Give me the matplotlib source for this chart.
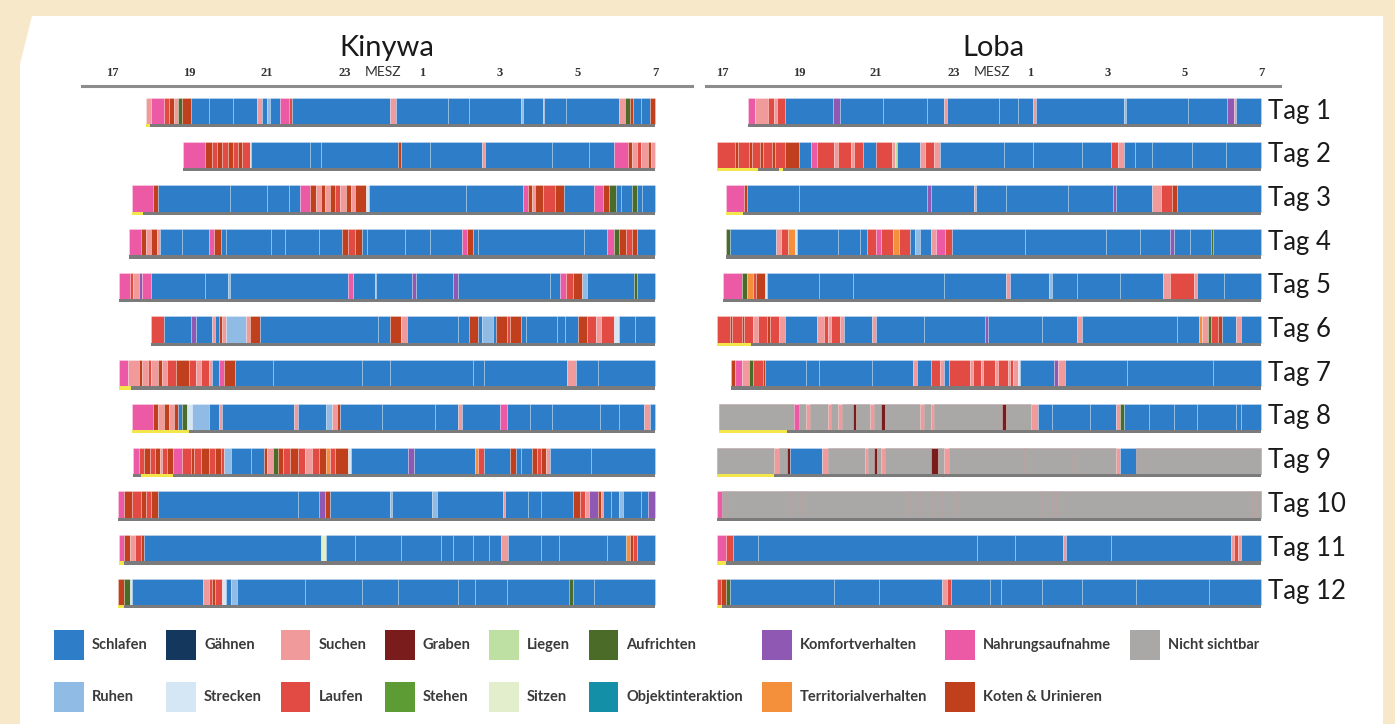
import matplotlib
matplotlib.use('Agg')
import matplotlib.pyplot as plt
from matplotlib.patches import Polygon, Patch

plt.rcParams['font.family'] = ['Lato', 'DejaVu Sans']

# ---------------- data ----------------
# behaviour categories (code, legend name, colour)
codes = ['S', 'G', 'Su', 'Gr', 'Li', 'A', 'K', 'N', 'NS',
         'R', 'St', 'L', 'Ste', 'Si', 'O', 'T', 'KU']
names = ['Schlafen', 'Gähnen', 'Suchen', 'Graben', 'Liegen', 'Aufrichten',
         'Komfortverhalten', 'Nahrungsaufnahme', 'Nicht sichtbar',
         'Ruhen', 'Strecken', 'Laufen', 'Stehen', 'Sitzen', 'Objektinteraktion',
         'Territorialverhalten', 'Koten & Urinieren']
colors = ['#2e7dc9', '#14375e', '#f19a9b', '#7b1c1c', '#bfe0a3', '#4b6b28',
          '#8f58b2', '#ec5aa6', '#aaa8a6',
          '#8fbbe5', '#d5e6f4', '#e24b44', '#5d9b34', '#e3efcc', '#1390a8',
          '#f48f3c', '#c0401e']

# time axis: hours after 17:00 MESZ
tick_hours = [0, 2, 4, 6, 8, 10, 12, 14]
tick_labels = ['17', '19', '21', '23', '1', '3', '5', '7']
day_labels = ['Tag 1', 'Tag 2', 'Tag 3', 'Tag 4', 'Tag 5', 'Tag 6',
              'Tag 7', 'Tag 8', 'Tag 9', 'Tag 10', 'Tag 11', 'Tag 12']

# each day: list of (start hour after 17:00, behaviour code); bout ends at next start
kinywa_tag1 = [(0.88,'Su'),(1.01,'N'),(1.34,'L'),(1.47,'KU'),(1.61,'Su'),(1.70,'A'),(1.80,'KU'),(2.03,'S'),(2.49,'S'),(3.13,'S'),(3.73,'Su'),(3.87,'S'),(4.01,'R'),(4.07,'S'),(4.33,'N'),(4.56,'L'),(4.65,'S'),(7.18,'Su'),(7.32,'S'),(8.66,'S'),(9.21,'S'),(10.55,'R'),(10.59,'S'),(11.10,'Su'),(11.14,'S'),(11.70,'S'),(13.08,'Su'),(13.22,'A'),(13.35,'KU'),(13.44,'S'),(13.63,'S'),(13.86,'KU')]
kinywa_tag2 = [(1.82,'N'),(2.39,'KU'),(2.58,'L'),(2.72,'KU'),(2.85,'L'),(2.99,'KU'),(3.13,'L'),(3.24,'KU'),(3.36,'L'),(3.55,'St'),(3.59,'S'),(5.11,'S'),(5.39,'S'),(7.37,'KU'),(7.46,'S'),(8.20,'S'),(9.53,'Su'),(9.62,'S'),(11.33,'S'),(12.29,'S'),(12.94,'N'),(13.31,'KU'),(13.40,'Su'),(13.54,'L'),(13.63,'Su'),(13.81,'KU'),(13.90,'Su')]
kinywa_tag3 = [(0.51,'N'),(1.06,'KU'),(1.20,'S'),(3.04,'S'),(4.01,'S'),(4.56,'S'),(4.86,'N'),(5.11,'KU'),(5.25,'Su'),(5.39,'KU'),(5.48,'Su'),(5.62,'KU'),(5.76,'L'),(5.89,'Su'),(6.03,'KU'),(6.17,'Su'),(6.26,'KU'),(6.54,'St'),(6.63,'S'),(9.12,'S'),(10.59,'N'),(10.73,'KU'),(10.82,'Su'),(10.91,'KU'),(11.10,'L'),(11.42,'KU'),(11.65,'S'),(12.43,'N'),(12.66,'KU'),(12.80,'A'),(12.98,'S'),(13.12,'S'),(13.40,'A'),(13.54,'S'),(13.67,'S')]
kinywa_tag4 = [(0.44,'N'),(0.74,'KU'),(0.87,'Su'),(1.01,'KU'),(1.15,'Su'),(1.24,'S'),(1.80,'S'),(2.49,'N'),(2.62,'KU'),(2.81,'S'),(2.95,'S'),(4.10,'S'),(4.47,'S'),(5.34,'S'),(5.94,'KU'),(6.08,'L'),(6.26,'KU'),(6.45,'S'),(6.58,'S'),(7.55,'S'),(8.20,'S'),(9.03,'N'),(9.16,'KU'),(9.30,'S'),(9.44,'S'),(12.16,'S'),(12.75,'N'),(12.94,'A'),(13.08,'KU'),(13.26,'L'),(13.40,'KU'),(13.54,'S')]
kinywa_tag5 = [(0.18,'N'),(0.46,'L'),(0.55,'Su'),(0.69,'K'),(0.78,'N'),(1.01,'S'),(2.39,'S'),(2.99,'R'),(3.04,'S'),(6.08,'N'),(6.22,'S'),(6.77,'R'),(6.81,'S'),(7.74,'K'),(7.83,'S'),(8.80,'K'),(8.93,'S'),(11.28,'S'),(11.56,'N'),(11.70,'L'),(11.88,'KU'),(12.11,'R'),(12.25,'S'),(13.45,'A'),(13.54,'S')]
kinywa_tag6 = [(1.01,'L'),(1.34,'S'),(2.03,'K'),(2.16,'S'),(2.58,'Su'),(2.67,'S'),(2.76,'KU'),(2.85,'Su'),(2.95,'R'),(3.45,'Su'),(3.55,'KU'),(3.82,'S'),(6.86,'S'),(7.18,'KU'),(7.46,'Su'),(7.60,'S'),(8.93,'S'),(9.21,'KU'),(9.44,'S'),(9.53,'R'),(9.81,'S'),(9.90,'KU'),(10.18,'L'),(10.27,'KU'),(10.54,'S'),(10.68,'S'),(11.46,'S'),(11.69,'S'),(12.02,'KU'),(12.25,'L'),(12.48,'Su'),(12.61,'L'),(12.94,'St'),(13.08,'S'),(13.49,'S')]
kinywa_tag7 = [(0.18,'N'),(0.41,'Su'),(0.69,'KU'),(0.78,'Su'),(0.92,'L'),(1.01,'Su'),(1.20,'KU'),(1.29,'Su'),(1.43,'L'),(1.66,'KU'),(1.98,'L'),(2.16,'Su'),(2.30,'L'),(2.49,'Su'),(2.58,'S'),(2.76,'N'),(2.90,'KU'),(3.18,'S'),(4.14,'S'),(6.45,'S'),(7.18,'S'),(9.30,'S'),(9.58,'S'),(11.74,'Su'),(11.97,'S'),(12.52,'S')]
kinywa_tag8 = [(0.53,'N'),(1.06,'KU'),(1.20,'Su'),(1.34,'KU'),(1.47,'Su'),(1.61,'KU'),(1.70,'S'),(1.80,'A'),(1.93,'St'),(2.07,'R'),(2.49,'S'),(2.76,'Su'),(2.85,'S'),(4.70,'Su'),(4.79,'S'),(5.52,'R'),(5.66,'Su'),(5.80,'KU'),(5.89,'S'),(6.95,'S'),(8.33,'S'),(8.93,'Su'),(9.03,'S'),(9.99,'N'),(10.18,'S'),(10.78,'S'),(11.33,'S'),(12.57,'S'),(13.08,'S'),(13.72,'Su'),(13.86,'S')]
kinywa_tag9 = [(0.55,'N'),(0.69,'L'),(0.83,'KU'),(0.97,'L'),(1.10,'KU'),(1.24,'Su'),(1.29,'L'),(1.43,'KU'),(1.57,'N'),(1.80,'L'),(2.03,'KU'),(2.12,'L'),(2.30,'KU'),(2.49,'L'),(2.67,'KU'),(2.81,'L'),(2.90,'R'),(3.08,'S'),(3.59,'S'),(3.91,'KU'),(4.01,'Su'),(4.14,'A'),(4.28,'KU'),(4.42,'L'),(4.60,'KU'),(4.79,'L'),(4.97,'Su'),(5.16,'L'),(5.34,'KU'),(5.52,'T'),(5.62,'L'),(5.76,'KU'),(6.08,'St'),(6.17,'S'),(7.64,'K'),(7.78,'S'),(9.35,'T'),(9.44,'L'),(9.58,'S'),(10.27,'KU'),(10.41,'S'),(10.54,'S'),(10.82,'KU'),(10.96,'L'),(11.05,'KU'),(11.19,'Su'),(11.28,'S'),(12.34,'S')]
kinywa_tag10 = [(0.17,'N'),(0.32,'KU'),(0.51,'L'),(0.74,'KU'),(0.87,'L'),(1.01,'KU'),(1.20,'S'),(4.79,'S'),(5.34,'K'),(5.48,'KU'),(5.62,'S'),(7.18,'R'),(7.23,'S'),(8.24,'R'),(8.38,'S'),(10.08,'Su'),(10.13,'S'),(10.73,'S'),(11.05,'S'),(11.88,'KU'),(12.06,'L'),(12.20,'Su'),(12.29,'K'),(12.52,'KU'),(12.61,'Su'),(12.66,'S'),(12.85,'S'),(13.08,'R'),(13.17,'S'),(13.63,'S'),(13.81,'K')]
kinywa_tag11 = [(0.18,'N'),(0.32,'KU'),(0.46,'Su'),(0.60,'L'),(0.74,'KU'),(0.83,'S'),(5.39,'Si'),(5.52,'S'),(6.26,'S'),(7.46,'S'),(8.47,'S'),(8.79,'S'),(9.30,'S'),(9.71,'S'),(10.04,'Su'),(10.22,'S'),(11.05,'S'),(11.51,'S'),(12.75,'S'),(13.26,'T'),(13.35,'KU'),(13.44,'L'),(13.54,'S')]
kinywa_tag12 = [(0.17,'KU'),(0.32,'A'),(0.46,'St'),(0.51,'S'),(2.35,'Su'),(2.49,'L'),(2.58,'KU'),(2.67,'L'),(2.85,'St'),(2.95,'S'),(3.08,'R'),(3.22,'S'),(4.97,'S'),(6.45,'S'),(7.37,'S'),(8.93,'S'),(9.35,'S'),(10.18,'S'),(11.79,'A'),(11.88,'S'),(12.43,'S')]
kinywa_days = [kinywa_tag1, kinywa_tag2, kinywa_tag3, kinywa_tag4, kinywa_tag5, kinywa_tag6,
               kinywa_tag7, kinywa_tag8, kinywa_tag9, kinywa_tag10, kinywa_tag11, kinywa_tag12]
kinywa_end = [14.0, 14.0, 14.0, 14.0, 14.0, 14.0, 14.0, 14.0, 14.0, 14.0, 14.0, 14.0]
# yellow marks under the bars: (day, start, end)
kinywa_marks = [(1, 0.88, 0.97), (3, 0.51, 0.80), (7, 0.18, 0.48), (8, 0.53, 1.98),
                (9, 0.74, 1.57), (11, 0.18, 0.30), (12, 0.17, 0.30)]

loba_tag1 = [(0.69,'N'),(0.85,'Su'),(1.21,'L'),(1.35,'Su'),(1.44,'L'),(1.63,'S'),(2.88,'K'),(3.06,'S'),(4.17,'S'),(5.33,'S'),(5.75,'Su'),(5.84,'S'),(7.18,'S'),(7.69,'S'),(8.06,'Su'),(8.15,'S'),(10.42,'R'),(10.47,'S'),(12.09,'S'),(13.10,'K'),(13.29,'Su'),(13.33,'S')]
loba_tag2 = [(-0.13,'L'),(0.33,'KU'),(0.41,'L'),(0.70,'KU'),(0.78,'L'),(0.98,'KU'),(1.06,'L'),(1.31,'KU'),(1.38,'L'),(1.63,'KU'),(2.00,'S'),(2.32,'N'),(2.46,'L'),(2.92,'Su'),(3.02,'L'),(3.34,'Su'),(3.43,'L'),(3.66,'S'),(3.99,'L'),(4.40,'Su'),(4.50,'Li'),(4.54,'S'),(5.14,'Su'),(5.28,'L'),(5.51,'Su'),(5.65,'S'),(7.32,'S'),(8.06,'S'),(9.35,'S'),(10.10,'L'),(10.28,'Su'),(10.42,'S'),(10.70,'S'),(11.16,'S'),(12.18,'S'),(13.06,'S')]
loba_tag3 = [(0.10,'N'),(0.57,'KU'),(0.66,'S'),(2.00,'S'),(5.33,'K'),(5.42,'S'),(6.53,'Su'),(6.60,'S'),(7.36,'S'),(8.98,'S'),(10.14,'K'),(10.23,'S'),(11.16,'Su'),(11.39,'L'),(11.67,'KU'),(11.81,'S')]
loba_tag4 = [(0.10,'A'),(0.20,'S'),(1.40,'Su'),(1.54,'L'),(1.72,'T'),(1.91,'St'),(1.95,'S'),(3.02,'S'),(3.57,'S'),(3.76,'L'),(3.99,'N'),(4.13,'L'),(4.45,'T'),(4.59,'L'),(4.87,'S'),(5.01,'R'),(5.14,'S'),(5.42,'Su'),(5.56,'N'),(5.79,'L'),(5.98,'S'),(7.87,'S'),(9.95,'S'),(10.83,'S'),(11.62,'K'),(11.72,'S'),(12.13,'S'),(12.69,'A'),(12.73,'S')]
loba_tag5 = [(0.04,'N'),(0.52,'A'),(0.66,'T'),(0.80,'L'),(0.89,'KU'),(1.12,'St'),(1.17,'S'),(2.51,'S'),(3.39,'S'),(5.75,'S'),(7.36,'Su'),(7.46,'S'),(8.47,'R'),(8.57,'S'),(9.21,'S'),(10.33,'S'),(11.44,'Su'),(11.63,'L'),(12.23,'Su'),(12.32,'S'),(13.01,'S')]
loba_tag6 = [(-0.13,'L'),(0.20,'KU'),(0.26,'L'),(0.52,'KU'),(0.58,'L'),(0.80,'Su'),(0.94,'L'),(1.17,'KU'),(1.24,'L'),(1.49,'Su'),(1.63,'S'),(2.46,'Su'),(2.65,'L'),(2.74,'Su'),(2.83,'L'),(3.06,'Su'),(3.16,'S'),(3.90,'Su'),(3.99,'S'),(5.24,'S'),(6.81,'K'),(6.90,'S'),(8.29,'S'),(9.21,'Su'),(9.35,'S'),(11.81,'S'),(12.37,'T'),(12.46,'Su'),(12.60,'A'),(12.69,'L'),(12.87,'KU'),(12.96,'S'),(13.33,'Su'),(13.47,'S')]
loba_tag7 = [(0.24,'KU'),(0.34,'N'),(0.52,'Su'),(0.71,'A'),(0.80,'L'),(1.08,'KU'),(1.12,'S'),(2.19,'S'),(2.51,'S'),(3.90,'S'),(4.96,'Su'),(5.05,'S'),(5.42,'L'),(5.65,'Su'),(5.75,'S'),(5.89,'L'),(6.44,'Su'),(6.50,'L'),(6.72,'Su'),(6.78,'L'),(7.09,'Su'),(7.15,'L'),(7.41,'Su'),(7.48,'L'),(7.55,'Su'),(7.69,'St'),(7.74,'S'),(8.62,'K'),(8.71,'Su'),(8.89,'S'),(10.51,'S'),(12.73,'S')]
loba_tag8 = [(-0.08,'NS'),(1.86,'N'),(2.00,'NS'),(2.19,'Su'),(2.28,'NS'),(2.74,'Su'),(2.83,'NS'),(3.02,'Su'),(3.11,'NS'),(3.39,'Gr'),(3.48,'NS'),(3.85,'Su'),(3.94,'NS'),(4.13,'Gr'),(4.22,'NS'),(5.14,'Su'),(5.24,'NS'),(5.42,'Su'),(5.51,'NS'),(7.27,'Gr'),(7.36,'NS'),(8.01,'Su'),(8.20,'S'),(8.57,'S'),(9.54,'S'),(10.23,'Su'),(10.33,'A'),(10.42,'S'),(11.07,'S'),(11.72,'S'),(12.32,'S'),(13.33,'S'),(13.47,'S')]
loba_tag9 = [(-0.13,'NS'),(1.35,'Su'),(1.49,'NS'),(1.68,'Gr'),(1.77,'S'),(2.60,'Su'),(2.74,'NS'),(3.71,'Su'),(3.80,'NS'),(3.94,'Gr'),(4.03,'NS'),(4.13,'Su'),(4.22,'NS'),(5.42,'Gr'),(5.61,'NS'),(5.75,'Su'),(5.89,'NS'),(7.83,'NS'),(7.92,'NS'),(9.12,'NS'),(9.21,'NS'),(10.23,'Su'),(10.33,'S'),(10.74,'NS')]
loba_tag10 = [(-0.13,'N'),(0.01,'NS'),(0.10,'NS'),(0.24,'NS'),(1.63,'NS'),(1.77,'NS'),(1.95,'NS'),(2.09,'NS'),(4.82,'NS'),(4.91,'NS'),(5.05,'NS'),(5.14,'NS'),(5.42,'NS'),(5.51,'NS'),(5.70,'NS'),(5.79,'NS'),(6.07,'NS'),(6.16,'NS'),(8.29,'NS'),(8.43,'NS'),(8.57,'NS'),(8.66,'NS'),(13.75,'NS'),(13.84,'NS')]
loba_tag11 = [(-0.13,'N'),(0.10,'L'),(0.29,'S'),(0.93,'S'),(6.62,'S'),(7.59,'S'),(8.84,'Su'),(8.93,'S'),(10.10,'S'),(13.19,'Su'),(13.28,'L'),(13.38,'Su'),(13.47,'S')]
loba_tag12 = [(-0.13,'L'),(-0.03,'KU'),(0.10,'A'),(0.20,'S'),(2.92,'S'),(4.08,'S'),(5.70,'Su'),(5.84,'L'),(5.93,'S'),(6.95,'S'),(7.23,'S'),(8.29,'S'),(9.35,'S'),(10.74,'S'),(12.64,'S')]
loba_days = [loba_tag1, loba_tag2, loba_tag3, loba_tag4, loba_tag5, loba_tag6,
             loba_tag7, loba_tag8, loba_tag9, loba_tag10, loba_tag11, loba_tag12]
loba_end = [13.98, 13.98, 13.98, 13.98, 13.98, 13.98, 13.98, 13.98, 13.98, 13.98, 13.98, 13.98]
loba_marks = [(2, -0.13, 0.94), (2, 1.49, 1.58), (3, 0.10, 0.55), (6, -0.13, 0.76),
              (8, -0.08, 1.68), (9, -0.13, 1.35), (11, -0.13, 0.10), (12, -0.13, 0.0)]

# ---------------- styling ----------------
COLOR = dict(zip(codes, colors))
BAR_H = 0.60
LINE_H = 0.075
W, H = 1395, 724
SEP_LIGHT = (1, 1, 1, 0.32)
SEP_GREY = (0.72, 0.58, 0.58, 0.55)

fig = plt.figure(figsize=(W / 100, H / 100), dpi=100)
fig.patch.set_facecolor('#f6e8c9')
panel = Polygon([(32 / W, 1 - 16 / H), (1383 / W, 1 - 16 / H), (1383 / W, 0),
                 (20 / W, 0), (20 / W, 1 - 64 / H)], closed=True,
                transform=fig.transFigure, facecolor='white', edgecolor='none', zorder=0)
fig.add_artist(panel)

ax_top, ax_bot = 86, 615
axL = fig.add_axes([82 / W, 1 - ax_bot / H, (692 - 82) / W, (ax_bot - ax_top) / H])
axR = fig.add_axes([706 / W, 1 - ax_bot / H, (1280 - 706) / W, (ax_bot - ax_top) / H])

Y_TOP = 0.428
Y_LABEL = 0.108


def draw(ax, days, ends, marks, xlim, title):
    for i, (segs, end) in enumerate(zip(days, ends)):
        y = i + 1
        starts = [s for s, _ in segs]
        stops = starts[1:] + [end]
        widths = [e - s for s, e in zip(starts, stops)]
        cols = [COLOR[c] for _, c in segs]
        edges = [SEP_GREY if c == 'NS' else SEP_LIGHT for _, c in segs]
        ax.barh([y] * len(starts), widths, left=starts, height=BAR_H, color=cols,
                edgecolor=edges, linewidth=0.55, zorder=2)
        ax.barh([y + BAR_H / 2 + LINE_H / 2], [end - starts[0]], left=[starts[0]],
                height=LINE_H, color='#7b7b7b', linewidth=0, zorder=2)
    for d, s, e in marks:
        ax.barh([d + BAR_H / 2 + LINE_H / 2], [e - s], left=[s], height=LINE_H,
                color='#f2e64a', linewidth=0, zorder=3)
    ax.set_xlim(*xlim)
    ax.set_ylim(12.53, Y_TOP)
    ax.set_facecolor('none')
    for sp in ['left', 'right', 'bottom']:
        ax.spines[sp].set_visible(False)
    ax.spines['top'].set_color('#8c8c8c')
    ax.spines['top'].set_linewidth(2.2)
    ax.xaxis.tick_top()
    ax.set_xticks(tick_hours)
    ax.set_xticklabels(tick_labels, fontfamily='Liberation Serif', fontweight='bold',
                       fontsize=9, color='#333333')
    ax.tick_params(axis='x', length=0, pad=5)
    ax.set_yticks([])
    ax.text(7.0, Y_LABEL, 'MESZ', ha='center', va='center', fontsize=10,
            color='#333333', clip_on=False)
    ax.text(0.5, 1.072, title, transform=ax.transAxes, ha='center', va='center',
            fontsize=21, color='#1a1a1a')


draw(axL, kinywa_days, kinywa_end, kinywa_marks, (-0.77, 14.95), 'Kinywa')
draw(axR, loba_days, loba_end, loba_marks, (-0.41, 14.47), 'Loba')

for i, lab in enumerate(day_labels):
    axR.text(14.16, i + 1, lab, ha='left', va='center', fontsize=18.5, color='#1a1a1a',
             clip_on=False)

# legend: two rows, column-major ordering
pairs = [('Schlafen', 'Ruhen'), ('Gähnen', 'Strecken'), ('Suchen', 'Laufen'),
         ('Graben', 'Stehen'), ('Liegen', 'Sitzen'), ('Aufrichten', 'Objektinteraktion'),
         ('Komfortverhalten', 'Territorialverhalten'),
         ('Nahrungsaufnahme', 'Koten & Urinieren'), ('Nicht sichtbar', None)]
name_color = dict(zip(names, colors))
handles, labels = [], []
for a, b in pairs:
    for n in (a, b):
        if n is None:
            handles.append(Patch(facecolor='none', edgecolor='none'))
            labels.append(' ')
        else:
            handles.append(Patch(facecolor=name_color[n], edgecolor='none'))
            labels.append(n)
leg = fig.legend(handles, labels, ncol=9, loc='upper left',
                 bbox_to_anchor=(54 / W, 1 - 630 / H), frameon=False,
                 prop={'family': 'Lato', 'weight': 'bold', 'size': 10.5},
                 handlelength=2.05, handleheight=2.75, handletextpad=0.55,
                 columnspacing=1.27, labelspacing=1.55, borderpad=0, borderaxespad=0)
for t in leg.get_texts():
    t.set_color('#3a3a3a')

fig.savefig('out.png', dpi=100, facecolor=fig.get_facecolor())
